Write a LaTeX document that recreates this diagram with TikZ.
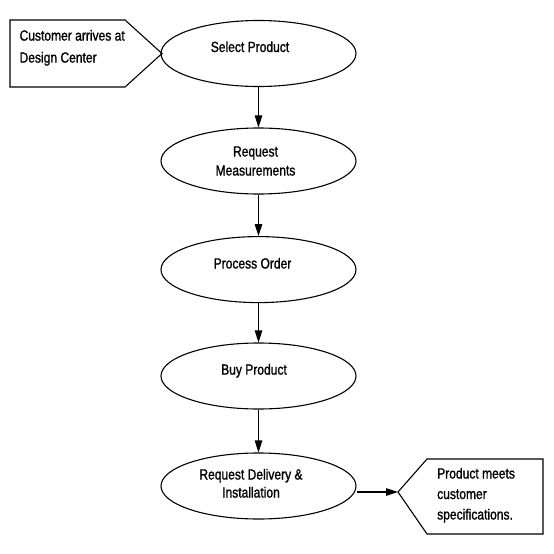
\documentclass[tikz,border=0pt]{standalone}
\usepackage{fontspec}
\setmainfont{Liberation Sans}[FakeStretch=0.82,FakeBold=1.2]
\usetikzlibrary{arrows.meta,shapes.geometric}
\tikzset{
  stepell/.style={draw, ellipse, line width=1.1pt, minimum width=195pt, minimum height=66pt, inner sep=0pt},
  lbl/.style={inner sep=0pt, font=\fontsize{14.7}{19}\selectfont},
  flow/.style={line width=1.1pt, -{Triangle[length=12pt,width=7.5pt]}},
  callout/.style={draw, line width=1.1pt, line join=miter}
}
\begin{document}
\begin{tikzpicture}[x=1pt,y=-1pt]
\useasboundingbox (0,0) rectangle (554,554);
% start callout
\draw[callout] (10,20) -- (125,20) -- (162,53.5) -- (125,87) -- (10,87) -- cycle;
\node[lbl, anchor=base west, font=\fontsize{14.7}{22}\selectfont] (ts) at (19.4,40.6)
  {\begin{tabular}[t]{@{}l@{}}Customer arrives at\\Design Center\end{tabular}};
% ellipses
\node[stepell] (e1) at (258.5,53.5) {};
\node[stepell] (e2) at (258.5,161) {};
\node[stepell] (e3) at (258.5,269.6) {};
\node[stepell] (e4) at (258.5,376) {};
\node[stepell] (e5) at (258.5,486) {};
% labels
\node[lbl, anchor=base] (t1) at (250,52) {Select Product};
\node[lbl, anchor=base] (t2) at (255.5,156.5)
  {\begin{tabular}[t]{@{}c@{}}Request\\Measurements\end{tabular}};
\node[lbl, anchor=base] (t3) at (252.5,268.5) {Process Order};
\node[lbl, anchor=base] (t4) at (254,374.6) {Buy Product};
\node[lbl, anchor=base, font=\fontsize{14.7}{18}\selectfont] (t5) at (251,479.5)
  {\begin{tabular}[t]{@{}c@{}}Request Delivery \&\\Installation\end{tabular}};
% connectors
\draw[flow] (e1) -- (e2);
\draw[flow] (e2) -- (e3);
\draw[flow] (e3) -- (e4);
\draw[flow] (e4) -- (e5);
% end callout
\coordinate (p) at (398,492);
\draw[callout] (p) -- (427,459) -- (543,459) -- (543,534) -- (427,534) -- cycle;
\draw[flow] (e5.east |- p) -- (p);
\node[lbl, anchor=base west, font=\fontsize{14.7}{20.5}\selectfont] (te) at (437,478.5)
  {\begin{tabular}[t]{@{}l@{}}Product meets\\customer\\specifications.\end{tabular}};
\end{tikzpicture}
\end{document}
